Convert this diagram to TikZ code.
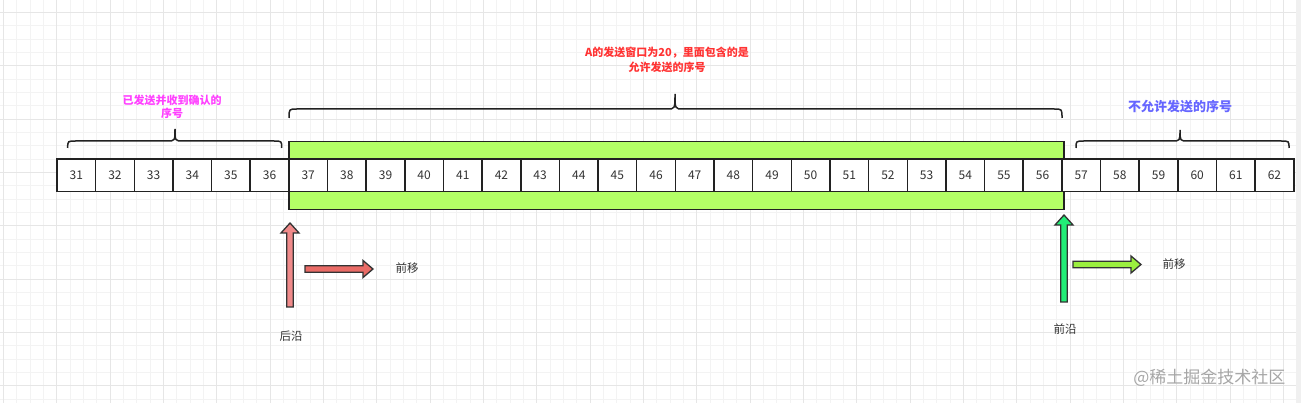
\documentclass[tikz,border=0pt]{standalone}
\usepackage{fontspec}
\setmainfont{Noto Sans CJK SC}
\usepackage{xcolor}
\usetikzlibrary{arrows.meta}
\definecolor{winGreen}{HTML}{B3FF66}
\definecolor{edgeDark}{HTML}{222222}
\definecolor{txtPink}{HTML}{FF40FF}
\definecolor{txtRed}{HTML}{FF3333}
\definecolor{txtBlue}{HTML}{6666FF}
\definecolor{backPink}{HTML}{F08A8A}
\definecolor{movePink}{HTML}{EA6B66}
\definecolor{frontGreen}{HTML}{22EE77}
\definecolor{moveGreen}{HTML}{9BEF3F}
\definecolor{gridMinor}{HTML}{F3F3F3}
\definecolor{gridMajor}{HTML}{E6E6E6}

% curly brace: x0, x1, xc, yflat, ytip, yend
\newcommand{\cbrace}[6]{%
\draw[brace](#1,#6).. controls (#1,#4) .. ({#1+8},#4)--({#3-8},#4)
 .. controls (#3,#4) .. (#3,#5) .. controls (#3,#4) .. ({#3+8},#4)
 --({#2-8},#4) .. controls (#2,#4) .. (#2,#6);}
% block arrows
\newcommand{\vblock}[4]{%
\draw[blockarr,fill=#4]({#1-3.3},#2)--({#1-3.3},{#3+10})--({#1-9},{#3+10})--(#1,#3)
 --({#1+9},{#3+10})--({#1+3.3},{#3+10})--({#1+3.3},#2)--cycle;}
\newcommand{\hblock}[4]{%
\draw[blockarr,fill=#4](#1,{#3-3.3})--({#2-10},{#3-3.3})--({#2-10},{#3-8.5})--(#2,#3)
 --({#2-10},{#3+8.5})--({#2-10},{#3+3.3})--(#1,{#3+3.3})--cycle;}

\begin{document}
\begin{tikzpicture}[x=1pt,y=-1pt,
 cell/.style={draw=edgeDark,fill=white,line width=1.5pt,minimum width=38.65pt,minimum height=32.5pt,inner sep=0pt,text=black!80,font=\fontsize{12}{12}\selectfont},
 window/.style={draw=edgeDark,fill=winGreen,line width=1.5pt,minimum width=775pt,minimum height=68pt,inner sep=0pt},
 brace/.style={draw=edgeDark,line width=1.5pt},
 blockarr/.style={draw=black!80,line width=1.3pt,line join=miter},
 lbl/.style={align=center,font=\bfseries\fontsize{11}{13}\selectfont},
 note/.style={text=black!80,font=\fontsize{11.5}{12}\selectfont}]
\useasboundingbox(0,0)rectangle(1301,403);
% grid
\fill[white](0,0)rectangle(1296,403);
\fill[black!6](1296,0)rectangle(1301,403);
\foreach \i in {0,...,96}{
 \draw[gridMinor,line width=0.8pt]({3.3+13.333*\i},0)--({3.3+13.333*\i},403);}
\foreach \j in {0,...,30}{
 \draw[gridMinor,line width=0.8pt](0,{12.3+13.333*\j})--(1296,{12.3+13.333*\j});}
\foreach \i in {0,...,24}{
 \draw[gridMajor,line width=0.8pt]({3.3+53.333*\i},0)--({3.3+53.333*\i},403);}
\foreach \j in {0,...,7}{
 \draw[gridMajor,line width=0.8pt](0,{12.3+53.333*\j})--(1296,{12.3+53.333*\j});}

% send window
\node[window](win)at(676.5,175.5){};
% sequence numbers
\foreach \n in {31,...,62}{
 \node[cell](c\n)at({57+38.65*(\n-31)+19.3},175.5){\n};}

% braces
\cbrace{67.7}{281.7}{175}{141}{129}{148}
\cbrace{289}{1062}{675}{109}{94}{118}
\cbrace{1076}{1289}{1180}{141}{130}{148}

% labels
\node[lbl,text=txtPink](acked)at(172,107){已发送并收到确认的\\序号};
\node[lbl,text=txtRed,font=\bfseries\fontsize{11}{14.6}\selectfont](allowed)at(667,60){A的发送窗口为20，里面包含的是\\允许发送的序号};
\node[lbl,text=txtBlue,font=\bfseries\fontsize{13}{14}\selectfont](denied)at(1180,107){不允许发送的序号};

% trailing and leading edges
\vblock{290}{307}{223}{backPink}
\hblock{305}{373}{269}{movePink}
\vblock{1064}{302}{215}{frontGreen}
\hblock{1073}{1141}{264.5}{moveGreen}
\node[note](back)at(291,336){后沿};
\node[note](mvback)at(407,268){前移};
\node[note](front)at(1065,329){前沿};
\node[note](mvfront)at(1174,264){前移};

\node[text=black!35,font=\fontsize{17}{17}\selectfont,anchor=east](mark)at(1289,378){@稀土掘金技术社区};
\end{tikzpicture}
\end{document}
